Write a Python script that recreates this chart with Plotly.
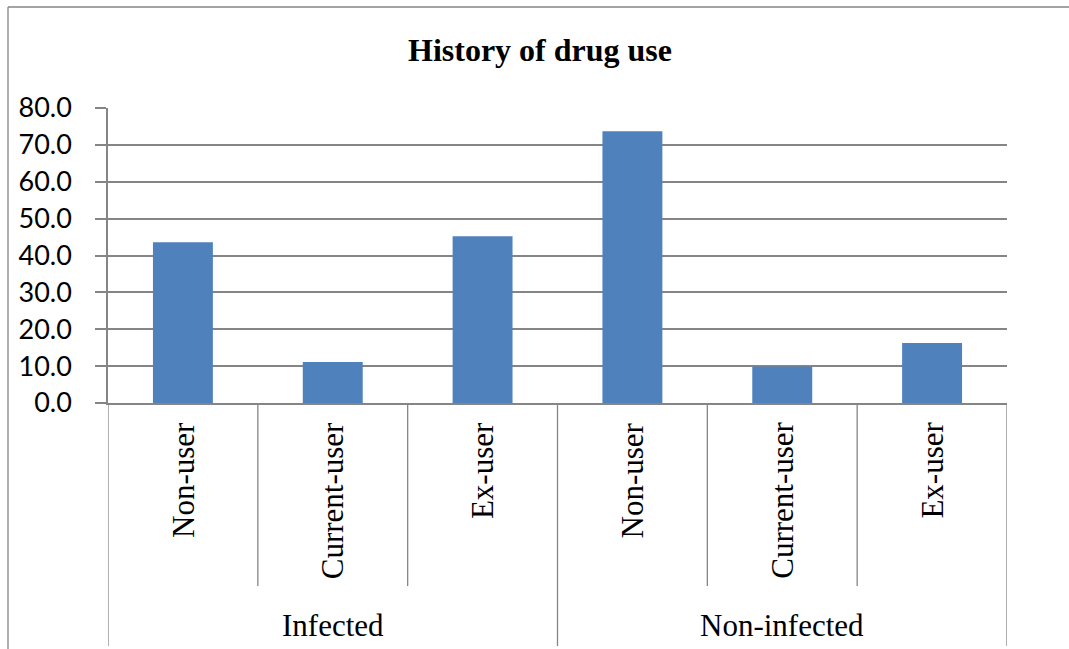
import plotly.graph_objects as go

# Percentages by infection status and drug-use history
groups = ["Infected", "Non-infected"]
categories = ["Non-user", "Current-user", "Ex-user"]
infected_values = [43.6, 11.1, 45.2]
non_infected_values = [73.7, 9.9, 16.3]
y_ticks = [0, 10, 20, 30, 40, 50, 60, 70, 80]

values = infected_values + non_infected_values
n_cat = len(categories)
positions = list(range(len(values)))

W, H = 1069, 649
M_L, M_R, M_T, M_B = 108, 62, 108, 246
plot_w = W - M_L - M_R
plot_h = H - M_T - M_B

BAR = "#4F81BD"
GRID = "#858585"
SERIF = "Liberation Serif, Times New Roman, serif"
SANS = "Lato, Carlito, Calibri, sans-serif"


def px_x(px):
    return (px - M_L) / plot_w


def px_y(py):
    return (H - M_B - py) / plot_h


fig = go.Figure(
    go.Bar(
        x=positions,
        y=values,
        marker=dict(color=BAR, line=dict(width=0)),
        width=0.4,
        hoverinfo="y",
    )
)

shapes = []
annotations = []

# Boundaries between the drug-use categories (short) and the groups (long)
for g in range(len(groups)):
    for c in range(1, n_cat):
        xb = g * n_cat + c - 0.5
        shapes.append(dict(type="line", xref="x", yref="paper",
                           x0=xb, x1=xb, y0=0, y1=px_y(586),
                           line=dict(color=GRID, width=1.3)))
for g in range(len(groups) + 1):
    xb = g * n_cat - 0.5
    shapes.append(dict(type="line", xref="x", yref="paper",
                       x0=xb, x1=xb, y0=0, y1=px_y(646),
                       line=dict(color=GRID, width=1.3)))

# Chart area frame (top and left edges)
shapes.append(dict(type="line", xref="paper", yref="paper",
                   x0=px_x(8), x1=px_x(W + 5), y0=px_y(7), y1=px_y(7),
                   line=dict(color=GRID, width=1.3)))
shapes.append(dict(type="line", xref="paper", yref="paper",
                   x0=px_x(8), x1=px_x(8), y0=px_y(7), y1=px_y(H + 5),
                   line=dict(color=GRID, width=1.3)))

# Inner category labels, rotated
for i, x in enumerate(positions):
    annotations.append(dict(
        x=x, y=px_y(420), xref="x", yref="paper",
        text=categories[i % n_cat], textangle=-90,
        showarrow=False, yanchor="top", xanchor="center",
        font=dict(family=SERIF, size=31, color="black"),
    ))

# Group labels
for g, name in enumerate(groups):
    annotations.append(dict(
        x=g * n_cat + (n_cat - 1) / 2, y=px_y(625), xref="x", yref="paper",
        text=name, showarrow=False, yanchor="middle", xanchor="center",
        font=dict(family=SERIF, size=31, color="black"),
    ))

fig.update_layout(
    width=W, height=H,
    margin=dict(l=M_L, r=M_R, t=M_T, b=M_B, pad=0),
    paper_bgcolor="white", plot_bgcolor="white",
    showlegend=False,
    title=dict(
        text="<b>History of drug use</b>",
        x=540 / W, xref="container", xanchor="center",
        y=1 - 50 / H, yref="container", yanchor="middle",
        font=dict(family=SERIF, size=32, color="black"),
    ),
    xaxis=dict(
        range=[-0.5, len(values) - 0.5],
        showticklabels=False, ticks="",
        showgrid=False, zeroline=False,
        showline=True, linecolor=GRID, linewidth=1.5,
        fixedrange=True,
    ),
    yaxis=dict(
        range=[0, 80],
        tickvals=y_ticks, tickformat=".1f",
        ticks="outside", ticklen=11, tickcolor=GRID, tickwidth=1.5,
        ticklabelstandoff=18,
        tickfont=dict(family=SANS, size=27, color="black"),
        showgrid=True, gridcolor=GRID, gridwidth=1.5,
        zeroline=False,
        showline=True, linecolor=GRID, linewidth=1.5,
        fixedrange=True,
    ),
    shapes=shapes,
    annotations=annotations,
)

fig.write_html("out.html")
